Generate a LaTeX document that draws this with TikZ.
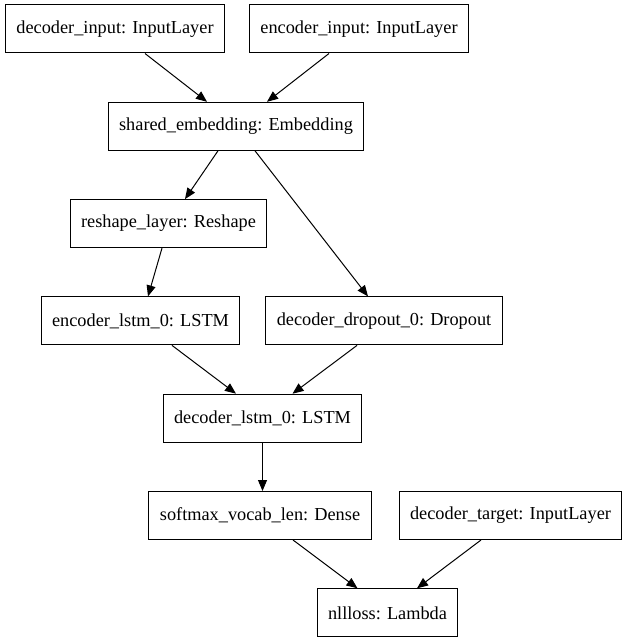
\documentclass[tikz,border=0pt]{standalone}
\usepackage{fontspec}
\setmainfont{Liberation Serif}
\usetikzlibrary{arrows.meta}

\begin{document}
\begin{tikzpicture}[x=1pt, y=-1pt, >={Triangle[length=11pt,width=9pt]}, line width=1pt,
    layer/.style={draw, rectangle, minimum height=48pt, inner xsep=11pt,
                  font=\fontsize{18.3}{22}\selectfont}]
    \useasboundingbox (0,0) rectangle (629,644);

    % ── Entradas ─────────────────────────────────────────────────────
    \node[layer] (decin) at (115, 29.0) {decoder\_input: InputLayer};
    \node[layer] (encin) at (359, 29.0) {encoder\_input: InputLayer};
    \node[layer] (emb)   at (236,126.3) {shared\_embedding: Embedding};

    \draw[->] ([xshift=30pt]decin.south) -- ([xshift=-29pt]emb.north);
    \draw[->] ([xshift=-30pt]encin.south) -- ([xshift=31pt]emb.north);

    % ── Rama encoder / rama decoder ──────────────────────────────────
    \node[layer] (resh)  at (168.5,223.6) {reshape\_layer: Reshape};
    \node[layer] (enclstm) at (140.5,320.9) {encoder\_lstm\_0: LSTM};
    \node[layer] (drop)  at (384,320.9) {decoder\_dropout\_0: Dropout};

    \draw[->] ([xshift=-18pt]emb.south) -- ([xshift=16.5pt]resh.north);
    \draw[->] ([xshift=19pt]emb.south) -- ([xshift=-16pt]drop.north);
    \draw[->] ([xshift=-6.5pt]resh.south) -- ([xshift=7.5pt]enclstm.north);

    % ── Decoder y salida ─────────────────────────────────────────────
    \node[layer] (declstm) at (262.5,418.2) {decoder\_lstm\_0: LSTM};
    \node[layer] (soft)  at (260,515.5) {softmax\_vocab\_len: Dense};
    \node[layer] (target) at (510.5,515.5) {decoder\_target: InputLayer};
    \node[layer] (loss)  at (387.5,612.8) {nllloss: Lambda};

    \draw[->] ([xshift=31.5pt]enclstm.south) -- ([xshift=-26.5pt]declstm.north);
    \draw[->] ([xshift=-27pt]drop.south) -- ([xshift=30pt]declstm.north);
    \draw[->] (declstm.south) -- (declstm.south |- soft.north);
    \draw[->] ([xshift=33pt]soft.south) -- ([xshift=-30pt]loss.north);
    \draw[->] ([xshift=-29.5pt]target.south) -- ([xshift=29.5pt]loss.north);
  \end{tikzpicture}
\end{document}
